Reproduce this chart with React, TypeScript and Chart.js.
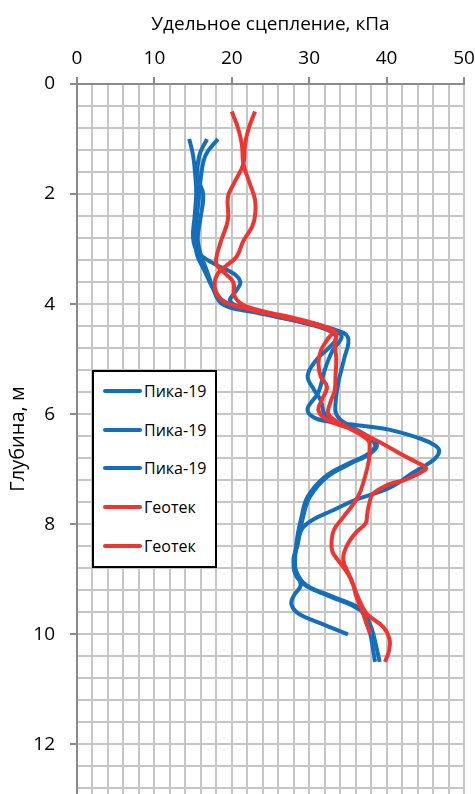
import React, { useEffect, useRef } from "react";
import { Chart, registerables } from "chart.js";

Chart.register(...registerables);

const X_TITLE = "Удельное сцепление, кПа";
const Y_TITLE = "Глубина, м";
const X_MIN = 0;
const X_MAX = 50;
const X_MINOR = 2;
const X_MAJOR = 10;
const Y_MIN = 0;
const Y_MAX = 12.9;
const Y_MINOR = 0.4;
const Y_MAJOR = 2;

const seriesLabels = ["Пика-19", "Пика-19", "Пика-19", "Геотек", "Геотек"];
const BLUE = "#136fbb";
const RED = "#ee3530";
const seriesColors = [BLUE, BLUE, BLUE, RED, RED];

// Пика-19 (1)
const pika1Depth = [1.0, 1.3, 1.7, 2.0, 2.4, 2.8, 3.05, 3.25, 3.45, 3.6, 3.75, 3.95, 4.1, 4.3, 4.45, 4.6, 5.0, 5.4, 5.8, 6.0, 6.15, 6.35, 6.5, 6.6, 6.75, 6.9, 7.14, 7.5, 7.87, 8.3, 8.8, 9.08, 9.3, 9.56, 9.8, 10.0, 10.5];
const pika1Value = [14.5, 15.0, 15.3, 15.4, 15.2, 15.0, 15.6, 17.5, 20.3, 21.1, 20.6, 19.8, 22.5, 29.0, 33.0, 35.0, 34.5, 33.8, 33.4, 33.5, 34.5, 37.0, 38.5, 38.7, 37.5, 35.3, 32.3, 30.1, 29.2, 28.6, 28.0, 29.2, 32.5, 36.6, 37.4, 37.9, 38.5];

// Пика-19 (2)
const pika2Depth = [1.0, 1.3, 1.7, 2.0, 2.4, 2.8, 3.1, 3.4, 3.7, 3.95, 4.1, 4.3, 4.45, 4.6, 4.8, 5.0, 5.3, 5.55, 5.75, 6.0, 6.15, 6.35, 6.5, 6.6, 6.75, 6.9, 7.14, 7.5, 7.87, 8.3, 8.8, 9.1, 9.3, 9.45, 9.62, 9.8, 10.0];
const pika2Value = [16.8, 15.8, 15.6, 16.3, 16.0, 15.6, 16.0, 16.8, 17.6, 19.0, 22.0, 28.0, 32.0, 33.5, 32.5, 31.0, 29.8, 30.6, 31.5, 32.0, 33.5, 36.8, 38.3, 38.5, 37.3, 35.0, 32.0, 29.8, 29.0, 28.4, 28.2, 28.9, 28.0, 27.7, 28.6, 31.5, 35.0];

// Пика-19 (3)
const pika3Depth = [1.0, 1.3, 1.7, 2.0, 2.4, 2.8, 3.1, 3.4, 3.7, 4.0, 4.15, 4.35, 4.5, 4.6, 4.85, 5.2, 5.6, 5.9, 6.05, 6.14, 6.2, 6.28, 6.45, 6.57, 6.67, 6.8, 6.95, 7.08, 7.22, 7.36, 7.56, 7.75, 7.93, 8.1, 8.4, 8.7, 9.08, 9.3, 9.56, 9.8, 10.0, 10.5];
const pika3Value = [18.2, 16.6, 16.0, 15.8, 15.5, 15.3, 15.5, 16.5, 17.5, 18.8, 23.0, 30.0, 33.5, 34.2, 33.0, 32.0, 31.2, 29.8, 30.5, 32.7, 36.2, 40.3, 44.5, 46.3, 46.8, 46.3, 44.8, 43.2, 41.8, 40.0, 35.9, 33.0, 30.3, 29.0, 28.4, 28.0, 29.4, 32.8, 36.9, 37.8, 38.3, 39.1];

// Геотек (1)
const geotek1Depth = [0.5, 0.8, 1.1, 1.45, 1.8, 2.1, 2.4, 2.6, 2.85, 3.14, 3.3, 3.44, 3.6, 3.75, 3.93, 4.05, 4.2, 4.35, 4.5, 4.65, 4.85, 5.08, 5.32, 5.5, 5.75, 5.93, 6.1, 6.29, 6.45, 6.59, 6.75, 6.86, 6.98, 7.06, 7.13, 7.2, 7.28, 7.45, 7.6, 7.8, 7.98, 8.17, 8.41, 8.65, 8.96, 9.32, 9.62, 9.87, 10.1, 10.3, 10.5];
const geotek1Value = [20.0, 20.8, 21.3, 21.5, 22.3, 23.0, 23.0, 22.6, 21.5, 20.6, 19.3, 18.2, 17.8, 17.9, 18.7, 21.0, 25.5, 30.0, 32.9, 32.3, 31.5, 31.2, 31.5, 32.3, 31.6, 31.2, 32.3, 35.9, 38.3, 40.2, 42.2, 43.7, 45.1, 44.4, 43.4, 42.2, 40.2, 38.2, 37.8, 37.5, 37.3, 35.9, 34.8, 34.4, 35.3, 36.3, 37.4, 39.6, 40.4, 40.3, 39.8];

// Геотек (2)
const geotek2Depth = [0.5, 0.8, 1.1, 1.45, 1.8, 2.05, 2.47, 2.9, 3.26, 3.45, 3.6, 3.87, 4.05, 4.25, 4.4, 4.52, 4.7, 5.0, 5.3, 5.56, 5.8, 6.0, 6.2, 6.47, 6.65, 6.85, 7.14, 7.5, 7.87, 8.1, 8.3, 8.5, 8.7, 8.9, 9.1, 9.32, 9.62, 10.0];
const geotek2Value = [23.0, 22.2, 21.7, 21.5, 20.3, 19.5, 19.5, 18.5, 18.0, 19.2, 20.2, 20.4, 22.0, 28.0, 31.8, 33.5, 33.3, 33.5, 33.4, 33.3, 32.7, 32.5, 34.5, 37.6, 37.8, 37.7, 37.2, 36.3, 34.4, 33.2, 32.9, 33.0, 34.0, 35.0, 35.7, 36.1, 37.0, 37.9];

const seriesDepths = [pika1Depth, pika2Depth, pika3Depth, geotek1Depth, geotek2Depth];
const seriesValues = [pika1Value, pika2Value, pika3Value, geotek1Value, geotek2Value];

const FONT = "'Open Sans', 'Noto Sans', sans-serif";

function stepTicks(min: number, max: number, step: number) {
  const out: { value: number }[] = [];
  const n = Math.floor((max - min) / step + 1e-9);
  for (let i = 0; i <= n; i++) {
    out.push({ value: Math.round((min + i * step) * 1000) / 1000 });
  }
  return out;
}

function isMajor(v: number, major: number) {
  return Math.abs(v / major - Math.round(v / major)) < 1e-6;
}

export default function App() {
  const canvasRef = useRef<HTMLCanvasElement | null>(null);

  useEffect(() => {
    const canvas = canvasRef.current;
    if (!canvas) return;
    const datasets = seriesLabels.map((label, i) => ({
      label,
      data: seriesDepths[i].map((d, j) => ({ x: seriesValues[i][j], y: d })),
      showLine: true,
      borderColor: seriesColors[i],
      backgroundColor: seriesColors[i],
      borderWidth: 4,
      pointRadius: 0,
      tension: 0.4,
      fill: false,
      order: seriesColors[i] === RED ? 0 : 1,
    }));

    const chart = new Chart(canvas, {
      type: "scatter",
      data: { datasets },
      options: {
        responsive: false,
        animation: false,
        layout: { padding: { left: 0, right: 11, top: 0, bottom: 0 } },
        plugins: { legend: { display: false }, tooltip: { enabled: false } },
        scales: {
          x: {
            type: "linear",
            position: "top",
            min: X_MIN,
            max: X_MAX,
            afterBuildTicks: (s: any) => {
              s.ticks = stepTicks(X_MIN, X_MAX, X_MINOR);
            },
            afterFit: (s: any) => {
              s.height = 84;
              s.paddingLeft = 0;
              s.paddingRight = 0;
            },
            ticks: {
              autoSkip: false,
              maxRotation: 0,
              minRotation: 0,
              padding: 7,
              color: "#000",
              font: { family: FONT, size: 19 },
              callback: (v: any) => (isMajor(Number(v), X_MAJOR) ? String(Math.round(Number(v))) : ""),
            },
            grid: {
              color: "#c6c6c6",
              lineWidth: 2,
              tickLength: 7,
              tickColor: (ctx: any) =>
                ctx.tick && isMajor(ctx.tick.value, X_MAJOR) ? "#8a8a8a" : "rgba(0,0,0,0)",
            },
            border: { color: "#8a8a8a", width: 2 },
            title: {
              display: true,
              text: X_TITLE,
              color: "#000",
              font: { family: FONT, size: 19 },
              padding: { top: 13, bottom: 0 },
            },
          },
          y: {
            type: "linear",
            reverse: true,
            min: Y_MIN,
            max: Y_MAX,
            afterBuildTicks: (s: any) => {
              s.ticks = stepTicks(Y_MIN, Y_MAX, Y_MINOR);
            },
            afterFit: (s: any) => {
              s.width = 77;
              s.paddingTop = 0;
              s.paddingBottom = 0;
            },
            ticks: {
              autoSkip: false,
              padding: 15,
              color: "#000",
              font: { family: FONT, size: 19 },
              callback: (v: any) => (isMajor(Number(v), Y_MAJOR) ? String(Math.round(Number(v))) : ""),
            },
            grid: {
              color: "#c6c6c6",
              lineWidth: 2,
              tickLength: 7,
              tickColor: (ctx: any) =>
                ctx.tick && isMajor(ctx.tick.value, Y_MAJOR) ? "#8a8a8a" : "rgba(0,0,0,0)",
            },
            border: { color: "#8a8a8a", width: 2 },
            title: {
              display: true,
              text: Y_TITLE,
              color: "#000",
              font: { family: FONT, size: 20 },
              padding: { top: 6, bottom: 0 },
            },
          },
        },
      },
    } as any);
    return () => chart.destroy();
  }, []);

  const rowTops = [21, 60, 98, 137, 176];

  return (
    <div style={{ position: "absolute", left: 0, top: 0, width: 475, height: 794, overflow: "hidden", background: "#fff" }}>
      <canvas ref={canvasRef} width={475} height={794} style={{ display: "block", width: 475, height: 794 }} />
      <div
        style={{
          position: "absolute",
          left: 92,
          top: 370,
          width: 125,
          height: 198,
          boxSizing: "border-box",
          border: "2px solid #000",
          background: "#fff",
          fontFamily: FONT,
          fontSize: 16,
          color: "#000",
        }}
      >
        {seriesLabels.map((label, i) => (
          <div key={i} style={{ position: "absolute", left: 9, top: rowTops[i] - 2 - 11, height: 22, display: "flex", alignItems: "center" }}>
            <span style={{ display: "inline-block", width: 39, height: 4, borderRadius: 2, background: seriesColors[i], marginRight: 2 }} />
            <span style={{ lineHeight: "22px", whiteSpace: "nowrap" }}>{label}</span>
          </div>
        ))}
      </div>
    </div>
  );
}
